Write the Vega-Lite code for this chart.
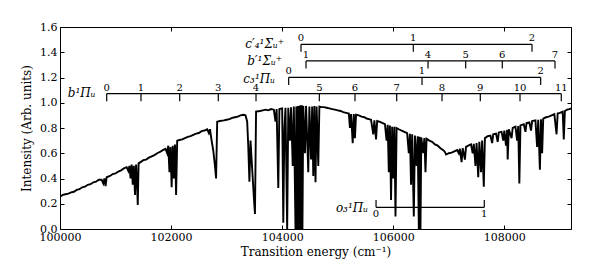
{
  "$schema": "https://vega.github.io/schema/vega-lite/v6.json",
  "width": 511,
  "height": 202,
  "autosize": "none",
  "padding": {"left": 60, "top": 27, "right": 29, "bottom": 41},
  "background": "white",
  "config": {
    "font": "DejaVu Serif",
    "view": {"stroke": "black", "strokeWidth": 1},
    "axis": {"labelFont": "DejaVu Serif", "titleFont": "DejaVu Serif", "labelFontSize": 11, "titleFontSize": 12, "titleFontWeight": "normal", "labelColor": "black", "titleColor": "black", "tickColor": "black", "grid": false, "domain": false}
  },
  "datasets": {
    "spec": [
      {"e":100000,"i":0.255},{"e":100050,"i":0.27},{"e":100100,"i":0.275},{"e":100150,"i":0.28},{"e":100200,"i":0.29},{"e":100250,"i":0.295},{"e":100300,"i":0.31},{"e":100350,"i":0.315},{"e":100400,"i":0.33},{"e":100450,"i":0.335},{"e":100500,"i":0.35},{"e":100550,"i":0.355},{"e":100600,"i":0.37},{"e":100650,"i":0.375},{"e":100700,"i":0.39},{"e":100750,"i":0.39},{"e":100780,"i":0.36},{"e":100800,"i":0.4},{"e":100820,"i":0.34},{"e":100840,"i":0.41},{"e":100900,"i":0.42},{"e":100950,"i":0.435},{"e":101000,"i":0.44},{"e":101050,"i":0.455},{"e":101100,"i":0.465},{"e":101150,"i":0.48},{"e":101200,"i":0.49},{"e":101230,"i":0.46},{"e":101250,"i":0.5},{"e":101270,"i":0.4},{"e":101290,"i":0.51},{"e":101310,"i":0.35},{"e":101330,"i":0.5},{"e":101350,"i":0.27},{"e":101370,"i":0.51},{"e":101385,"i":0.38},{"e":101400,"i":0.19},{"e":101415,"i":0.52},{"e":101450,"i":0.53},{"e":101500,"i":0.545},{"e":101550,"i":0.55},{"e":101600,"i":0.565},{"e":101650,"i":0.575},{"e":101700,"i":0.585},{"e":101750,"i":0.6},{"e":101800,"i":0.61},{"e":101850,"i":0.625},{"e":101900,"i":0.635},{"e":101930,"i":0.6},{"e":101950,"i":0.66},{"e":101970,"i":0.45},{"e":101990,"i":0.65},{"e":102010,"i":0.33},{"e":102030,"i":0.66},{"e":102050,"i":0.4},{"e":102070,"i":0.67},{"e":102090,"i":0.27},{"e":102110,"i":0.7},{"e":102150,"i":0.705},{"e":102200,"i":0.71},{"e":102250,"i":0.72},{"e":102300,"i":0.73},{"e":102350,"i":0.735},{"e":102400,"i":0.745},{"e":102450,"i":0.755},{"e":102500,"i":0.76},{"e":102550,"i":0.775},{"e":102600,"i":0.78},{"e":102650,"i":0.79},{"e":102680,"i":0.76},{"e":102700,"i":0.79},{"e":102730,"i":0.7},{"e":102760,"i":0.62},{"e":102790,"i":0.5},{"e":102810,"i":0.4},{"e":102830,"i":0.85},{"e":102880,"i":0.855},{"e":102950,"i":0.86},{"e":103000,"i":0.865},{"e":103050,"i":0.87},{"e":103100,"i":0.88},{"e":103150,"i":0.885},{"e":103200,"i":0.89},{"e":103250,"i":0.9},{"e":103300,"i":0.905},{"e":103340,"i":0.9},{"e":103370,"i":0.85},{"e":103390,"i":0.65},{"e":103410,"i":0.375},{"e":103430,"i":0.7},{"e":103450,"i":0.55},{"e":103470,"i":0.4},{"e":103490,"i":0.25},{"e":103510,"i":0.119},{"e":103530,"i":0.93},{"e":103600,"i":0.935},{"e":103650,"i":0.94},{"e":103700,"i":0.945},{"e":103750,"i":0.94},{"e":103800,"i":0.95},{"e":103850,"i":0.945},{"e":103880,"i":0.85},{"e":103900,"i":0.95},{"e":103930,"i":0.325},{"e":103950,"i":0.95},{"e":104000,"i":0.955},{"e":104020,"i":0.05},{"e":104040,"i":0.8},{"e":104060,"i":0.96},{"e":104090,"i":0.0},{"e":104110,"i":0.96},{"e":104140,"i":0.7},{"e":104160,"i":0.965},{"e":104190,"i":0.5},{"e":104210,"i":0.97},{"e":104240,"i":0.0},{"e":104255,"i":0.97},{"e":104265,"i":0.0},{"e":104280,"i":0.975},{"e":104290,"i":0.0},{"e":104300,"i":0.975},{"e":104310,"i":0.0},{"e":104325,"i":0.98},{"e":104340,"i":0.0},{"e":104355,"i":0.98},{"e":104365,"i":0.0},{"e":104380,"i":0.975},{"e":104410,"i":0.6},{"e":104430,"i":0.975},{"e":104470,"i":0.45},{"e":104490,"i":0.97},{"e":104520,"i":0.55},{"e":104540,"i":0.97},{"e":104560,"i":0.42},{"e":104580,"i":0.975},{"e":104600,"i":0.37},{"e":104620,"i":0.97},{"e":104650,"i":0.5},{"e":104670,"i":0.97},{"e":104700,"i":0.965},{"e":104750,"i":0.965},{"e":104800,"i":0.96},{"e":104850,"i":0.955},{"e":104900,"i":0.95},{"e":104950,"i":0.945},{"e":105000,"i":0.94},{"e":105050,"i":0.935},{"e":105100,"i":0.925},{"e":105150,"i":0.92},{"e":105200,"i":0.915},{"e":105220,"i":0.8},{"e":105240,"i":0.91},{"e":105270,"i":0.68},{"e":105290,"i":0.91},{"e":105310,"i":0.72},{"e":105330,"i":0.905},{"e":105380,"i":0.9},{"e":105430,"i":0.89},{"e":105480,"i":0.885},{"e":105520,"i":0.875},{"e":105560,"i":0.87},{"e":105600,"i":0.865},{"e":105640,"i":0.75},{"e":105660,"i":0.86},{"e":105690,"i":0.71},{"e":105710,"i":0.855},{"e":105750,"i":0.85},{"e":105800,"i":0.84},{"e":105850,"i":0.83},{"e":105880,"i":0.7},{"e":105900,"i":0.825},{"e":105920,"i":0.45},{"e":105940,"i":0.82},{"e":105960,"i":0.23},{"e":105980,"i":0.81},{"e":106000,"i":0.4},{"e":106020,"i":0.81},{"e":106040,"i":0.1},{"e":106060,"i":0.8},{"e":106100,"i":0.79},{"e":106150,"i":0.78},{"e":106200,"i":0.77},{"e":106250,"i":0.76},{"e":106280,"i":0.6},{"e":106300,"i":0.755},{"e":106320,"i":0.35},{"e":106340,"i":0.75},{"e":106370,"i":0.1},{"e":106390,"i":0.74},{"e":106420,"i":0.5},{"e":106440,"i":0.735},{"e":106460,"i":0.0},{"e":106475,"i":0.73},{"e":106490,"i":0.0},{"e":106505,"i":0.725},{"e":106540,"i":0.6},{"e":106560,"i":0.72},{"e":106580,"i":0.45},{"e":106600,"i":0.715},{"e":106650,"i":0.7},{"e":106700,"i":0.69},{"e":106750,"i":0.67},{"e":106800,"i":0.66},{"e":106850,"i":0.64},{"e":106900,"i":0.625},{"e":106930,"i":0.61},{"e":106950,"i":0.59},{"e":107000,"i":0.6},{"e":107050,"i":0.605},{"e":107100,"i":0.615},{"e":107150,"i":0.625},{"e":107180,"i":0.6},{"e":107200,"i":0.635},{"e":107230,"i":0.53},{"e":107250,"i":0.64},{"e":107290,"i":0.55},{"e":107310,"i":0.65},{"e":107350,"i":0.66},{"e":107400,"i":0.67},{"e":107430,"i":0.6},{"e":107450,"i":0.675},{"e":107480,"i":0.5},{"e":107500,"i":0.68},{"e":107530,"i":0.41},{"e":107550,"i":0.69},{"e":107580,"i":0.45},{"e":107600,"i":0.7},{"e":107630,"i":0.335},{"e":107650,"i":0.72},{"e":107700,"i":0.735},{"e":107750,"i":0.74},{"e":107780,"i":0.68},{"e":107800,"i":0.75},{"e":107850,"i":0.755},{"e":107880,"i":0.69},{"e":107900,"i":0.765},{"e":107950,"i":0.77},{"e":107980,"i":0.7},{"e":108000,"i":0.78},{"e":108030,"i":0.66},{"e":108050,"i":0.785},{"e":108060,"i":0.55},{"e":108080,"i":0.79},{"e":108130,"i":0.72},{"e":108150,"i":0.8},{"e":108200,"i":0.81},{"e":108230,"i":0.7},{"e":108250,"i":0.815},{"e":108270,"i":0.36},{"e":108290,"i":0.82},{"e":108350,"i":0.83},{"e":108380,"i":0.77},{"e":108400,"i":0.84},{"e":108450,"i":0.845},{"e":108480,"i":0.78},{"e":108500,"i":0.855},{"e":108560,"i":0.86},{"e":108590,"i":0.65},{"e":108610,"i":0.865},{"e":108640,"i":0.47},{"e":108660,"i":0.87},{"e":108680,"i":0.6},{"e":108700,"i":0.875},{"e":108750,"i":0.885},{"e":108800,"i":0.89},{"e":108850,"i":0.9},{"e":108900,"i":0.91},{"e":108940,"i":0.75},{"e":108960,"i":0.915},{"e":109000,"i":0.92},{"e":109050,"i":0.93},{"e":109070,"i":0.71},{"e":109090,"i":0.935},{"e":109130,"i":0.945},{"e":109170,"i":0.95},{"e":109200,"i":0.955}
    ],
    "bars": [
      {"x":100841,"x2":109025,"y":1.072,"y2":1.072},
      {"x":104117,"x2":108654,"y":1.201,"y2":1.201},
      {"x":104429,"x2":108912,"y":1.331,"y2":1.331},
      {"x":104339,"x2":108498,"y":1.463,"y2":1.463},
      {"x":105690,"x2":107639,"y":0.172,"y2":0.172},
      {"x":100841,"x2":100841,"y":1.072,"y2":1.012},
      {"x":101458,"x2":101458,"y":1.072,"y2":1.012},
      {"x":102155,"x2":102155,"y":1.072,"y2":1.012},
      {"x":102850,"x2":102850,"y":1.072,"y2":1.012},
      {"x":103529,"x2":103529,"y":1.072,"y2":1.012},
      {"x":104669,"x2":104669,"y":1.072,"y2":1.012},
      {"x":105311,"x2":105311,"y":1.072,"y2":1.012},
      {"x":106062,"x2":106062,"y":1.072,"y2":1.012},
      {"x":106878,"x2":106878,"y":1.072,"y2":1.012},
      {"x":107567,"x2":107567,"y":1.072,"y2":1.012},
      {"x":108282,"x2":108282,"y":1.072,"y2":1.012},
      {"x":109025,"x2":109025,"y":1.072,"y2":1.012},
      {"x":104117,"x2":104117,"y":1.201,"y2":1.141},
      {"x":106518,"x2":106518,"y":1.201,"y2":1.141},
      {"x":108654,"x2":108654,"y":1.201,"y2":1.141},
      {"x":104429,"x2":104429,"y":1.331,"y2":1.271},
      {"x":106626,"x2":106626,"y":1.331,"y2":1.271},
      {"x":107304,"x2":107304,"y":1.331,"y2":1.271},
      {"x":107963,"x2":107963,"y":1.331,"y2":1.271},
      {"x":108912,"x2":108912,"y":1.331,"y2":1.271},
      {"x":104339,"x2":104339,"y":1.463,"y2":1.403},
      {"x":106361,"x2":106361,"y":1.463,"y2":1.403},
      {"x":108498,"x2":108498,"y":1.463,"y2":1.403},
      {"x":105690,"x2":105690,"y":0.172,"y2":0.23},
      {"x":107639,"x2":107639,"y":0.172,"y2":0.23}
    ],
    "nums": [
      {"x":100841,"y":1.072,"t":"0"},{"x":101458,"y":1.072,"t":"1"},{"x":102155,"y":1.072,"t":"2"},{"x":102850,"y":1.072,"t":"3"},{"x":103529,"y":1.072,"t":"4"},{"x":104669,"y":1.072,"t":"5"},{"x":105311,"y":1.072,"t":"6"},{"x":106062,"y":1.072,"t":"7"},{"x":106878,"y":1.072,"t":"8"},{"x":107567,"y":1.072,"t":"9"},{"x":108282,"y":1.072,"t":"10"},{"x":109025,"y":1.072,"t":"11"},
      {"x":104117,"y":1.201,"t":"0"},{"x":106518,"y":1.201,"t":"1"},{"x":108654,"y":1.201,"t":"2"},
      {"x":104429,"y":1.331,"t":"1"},{"x":106626,"y":1.331,"t":"4"},{"x":107304,"y":1.331,"t":"5"},{"x":107963,"y":1.331,"t":"6"},{"x":108912,"y":1.331,"t":"7"},
      {"x":104339,"y":1.463,"t":"0"},{"x":106361,"y":1.463,"t":"1"},{"x":108498,"y":1.463,"t":"2"}
    ],
    "onums": [
      {"x":105690,"y":0.172,"t":"0"},{"x":107639,"y":0.172,"t":"1"}
    ],
    "names": [
      {"x":100640,"y":1.075,"t":"b¹Πᵤ"},
      {"x":103870,"y":1.19,"t":"c₃¹Πᵤ"},
      {"x":103997,"y":1.33,"t":"b′¹Σᵤ⁺"},
      {"x":104033,"y":1.465,"t":"c′₄¹Σᵤ⁺"},
      {"x":105545,"y":0.166,"t":"o₃¹Πᵤ"}
    ]
  },
  "layer": [
    {
      "data": {"name": "spec"},
      "mark": {"type": "line", "color": "black", "strokeWidth": 1.9, "clip": true},
      "encoding": {
        "x": {"field": "e", "type": "quantitative", "scale": {"domain": [100000, 109200], "nice": false, "zero": false},
              "axis": {"orient": "bottom", "title": "Transition energy (cm⁻¹)", "values": [100000, 102000, 104000, 106000, 108000], "format": "d", "tickSize": -4, "labelPadding": 6, "titlePadding": 4, "labelFlush": false}},
        "y": {"field": "i", "type": "quantitative", "scale": {"domain": [0, 1.6], "nice": false},
              "axis": {"orient": "left", "title": "Intensity (Arb. units)", "values": [0, 0.2, 0.4, 0.6, 0.8, 1.0, 1.2, 1.4, 1.6], "format": ".1f", "tickSize": -4, "labelPadding": 7, "titlePadding": 6, "labelFlush": false}}
      }
    },
    {
      "data": {"name": "bars"},
      "mark": {"type": "rule", "color": "black", "strokeWidth": 1.2},
      "encoding": {
        "x": {"field": "x", "type": "quantitative", "axis": {"orient": "top", "labels": false, "title": null, "values": [100000, 102000, 104000, 106000, 108000], "tickSize": -4}},
        "x2": {"field": "x2"},
        "y": {"field": "y", "type": "quantitative", "axis": {"orient": "right", "labels": false, "title": null, "values": [0, 0.2, 0.4, 0.6, 0.8, 1.0, 1.2, 1.4, 1.6], "tickSize": -4}},
        "y2": {"field": "y2"}
      }
    },
    {
      "data": {"name": "nums"},
      "mark": {"type": "text", "baseline": "alphabetic", "align": "center", "dy": -3, "fontSize": 10, "font": "DejaVu Serif", "color": "black"},
      "encoding": {
        "x": {"field": "x", "type": "quantitative", "axis": null},
        "y": {"field": "y", "type": "quantitative", "axis": null},
        "text": {"field": "t"}
      }
    },
    {
      "data": {"name": "onums"},
      "mark": {"type": "text", "baseline": "top", "align": "center", "dy": 2, "fontSize": 10, "font": "DejaVu Serif", "color": "black"},
      "encoding": {
        "x": {"field": "x", "type": "quantitative", "axis": null},
        "y": {"field": "y", "type": "quantitative", "axis": null},
        "text": {"field": "t"}
      }
    },
    {
      "data": {"name": "names"},
      "mark": {"type": "text", "baseline": "middle", "align": "right", "fontSize": 12, "font": "DejaVu Serif", "fontStyle": "italic", "color": "black"},
      "encoding": {
        "x": {"field": "x", "type": "quantitative", "axis": null},
        "y": {"field": "y", "type": "quantitative", "axis": null},
        "text": {"field": "t"}
      }
    }
  ],
  "resolve": {"axis": {"x": "independent", "y": "independent"}}
}
